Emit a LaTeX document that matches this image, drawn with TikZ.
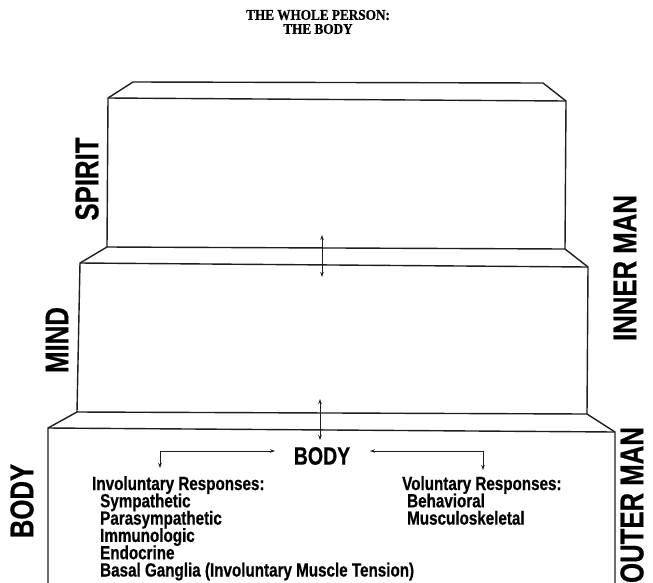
\documentclass[tikz,border=0pt]{standalone}
\usepackage{fontspec}
\setmainfont{Liberation Serif}
\newfontfamily\titlefont[FakeStretch=0.88,FakeBold=0.8]{Liberation Serif Bold}
\newfontfamily\condfont[FakeStretch=0.78,FakeBold=0.6]{Liberation Sans Bold}
\newfontfamily\listfont[FakeStretch=0.8,FakeBold=0.6]{Liberation Sans Bold}
\usepackage{tikz}
\usetikzlibrary{arrows.meta,positioning}
\definecolor{inkdark}{RGB}{30,30,30}

\begin{document}
\begin{tikzpicture}[x=1pt, y=-1pt,
    edge/.style={inkdark, line width=1.4pt, line join=round},
    link/.style={inkdark, line width=0.9pt, {Stealth[length=5pt,width=3.5pt]}-{Stealth[length=5pt,width=3.5pt]}},
    titletxt/.style={inner sep=0pt, font=\titlefont\fontsize{15}{15}\selectfont},
    sidelabel/.style={rotate=90, inner sep=0pt, font=\condfont\fontsize{33}{33}\selectfont},
    listtxt/.style={anchor=base west, inner sep=0pt, font=\listfont\fontsize{19}{19}\selectfont}]
    \useasboundingbox (0,0) rectangle (653,582);

    % --- title ---
    \node[titletxt] (title1) at (318,15) {THE WHOLE PERSON:};
    \node[titletxt] (title2) at (318,29) {THE BODY};

    % --- spirit block ---
    \coordinate (sBL) at (133,82);
    \coordinate (sBR) at (543,83);
    \coordinate (sFL) at (108,98);
    \coordinate (sFR) at (566,101);
    \coordinate (sDL) at (107,247);
    \coordinate (sDR) at (565,249);
    \draw[edge] (sDL) -- (sFL) -- (sBL) -- (sBR) -- (sFR) -- (sDR) -- cycle;
    \draw[edge] (sFL) -- (sFR);

    % --- mind block ---
    \coordinate (mFL) at (80,263);
    \coordinate (mFR) at (588,267);
    \coordinate (mDL) at (77,412);
    \coordinate (mDR) at (587,414);
    \draw[edge] (sDL) -- (mFL) -- (mDL) -- (mDR) -- (mFR) -- (sDR);
    \draw[edge] (mFL) -- (mFR);

    % --- body block (open at the bottom) ---
    \coordinate (bFL) at (48,428);
    \coordinate (bFR) at (615,432);
    \coordinate (bDL) at (48,584);
    \coordinate (bDR) at (615,584);
    \draw[edge] (bDL) -- (bFL) -- (mDL);
    \draw[edge] (mDR) -- (bFR) -- (bDR);
    \draw[edge] (bFL) -- (bFR);

    % links between the blocks
    \coordinate (smtop) at (322,235);
    \coordinate (smbot) at (322,277);
    \draw[link] (smtop) -- (smbot);
    \coordinate (mbtop) at (320,399);
    \coordinate (mbbot) at (320,440);
    \draw[link] (mbtop) -- (mbbot);

    % side labels
    \node[sidelabel] (spiritlbl) at (87,179) {SPIRIT};
    \node[sidelabel] (mindlbl) at (57,340) {MIND};
    \node[sidelabel] (bodylbl) at (22,501) {BODY};
    \node[sidelabel] (innerlbl) at (625,268) {INNER MAN};
    \node[sidelabel] (outerlbl) at (632,505) {OUTER MAN};

    % --- body: responses ---
    \node[inner sep=0pt, font=\condfont\fontsize{25}{25}\selectfont] (bodyhub) at (322,456) {BODY};
    \coordinate (invtip) at (160,468);
    \coordinate (invcorner) at (160,451);
    \coordinate (invend) at (275,451);
    \draw[link] (invtip) -- (invcorner) -- (invend);
    \coordinate (voltip) at (483,470);
    \coordinate (volcorner) at (483,451);
    \coordinate (volend) at (370,451);
    \draw[link] (voltip) -- (volcorner) -- (volend);

    \node[listtxt] (invhead) at (92,490) {Involuntary Responses:};
    \foreach \t [count=\i] in {Sympathetic,Parasympathetic,Immunologic,Endocrine,Basal Ganglia (Involuntary Muscle Tension)}
        \node[listtxt] (inv\i) at (100,490+17.3*\i) {\t};
    \node[listtxt] (volhead) at (402,490) {Voluntary Responses:};
    \foreach \t [count=\i] in {Behavioral,Musculoskeletal}
        \node[listtxt] (vol\i) at (407,490+17.3*\i) {\t};
\end{tikzpicture}
\end{document}
